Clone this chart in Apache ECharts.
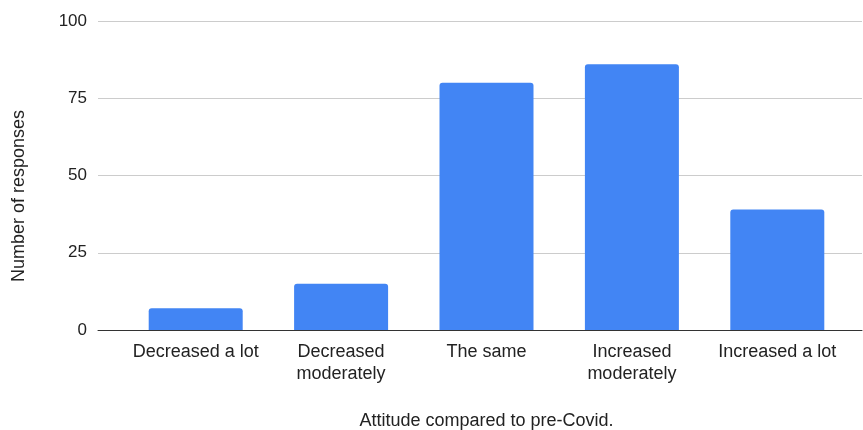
<!DOCTYPE html>
<html>
<head>
<meta charset="utf-8">
<script src="https://cdn.jsdelivr.net/npm/echarts@6/dist/echarts.min.js"></script>
<style>html,body{margin:0;padding:0;background:#fff}#c{width:863px;height:430px}</style>
</head>
<body>
<div id="c"></div>
<script>
const categories = ['Decreased a lot', 'Decreased\nmoderately', 'The same', 'Increased\nmoderately', 'Increased a lot'];
const responses = [7, 15, 80, 86, 39];
const yTicks = [0, 25, 50, 75, 100];
const xTitle = 'Attitude compared to pre-Covid.';
const yTitle = 'Number of responses';

const chart = echarts.init(document.getElementById('c'), null, {renderer: 'canvas'});
const font = 'Liberation Sans, Arial, sans-serif';
chart.setOption({
  animation: false,
  grid: [
    {left: 98, right: 1, top: 21, bottom: 100, containLabel: false, outerBoundsMode: 'none'},
    {left: 123, right: 13, top: 21, bottom: 100, containLabel: false, outerBoundsMode: 'none'}
  ],
  xAxis: [
    {gridIndex: 0, type: 'value', min: 0, max: 1, show: true,
     axisLine: {show: true, onZero: false, lineStyle: {color: '#333', width: 1}},
     axisTick: {show: false}, axisLabel: {show: false}, splitLine: {show: false}},
    {gridIndex: 1, type: 'category', data: categories,
     axisLine: {show: false}, axisTick: {show: false},
     axisLabel: {color: '#222', fontSize: 18, fontFamily: font, margin: 11, lineHeight: 22, interval: 0},
     name: xTitle, nameLocation: 'middle', nameGap: 82,
     nameTextStyle: {color: '#222', fontSize: 18, fontFamily: font}}
  ],
  yAxis: [
    {gridIndex: 0, type: 'value', min: yTicks[0], max: yTicks[yTicks.length - 1], interval: 25,
     axisLine: {show: false}, axisTick: {show: false},
     axisLabel: {color: '#222', fontSize: 17, fontFamily: font, margin: 11},
     splitLine: {lineStyle: {color: '#cccccc', width: 1}}},
    {gridIndex: 1, type: 'value', min: yTicks[0], max: yTicks[yTicks.length - 1], interval: 25,
     show: false, splitLine: {show: false}}
  ],
  graphic: [{
    type: 'text', x: 19, y: 196, rotation: Math.PI / 2,
    style: {text: yTitle, fill: '#222', font: '18px ' + font, align: 'center', verticalAlign: 'middle'}
  }],
  series: [{
    type: 'bar', xAxisIndex: 1, yAxisIndex: 1, data: responses,
    barWidth: 94, z: 3,
    itemStyle: {color: '#4285F4', borderRadius: [3, 3, 0, 0]}
  }]
});
</script>
</body>
</html>
